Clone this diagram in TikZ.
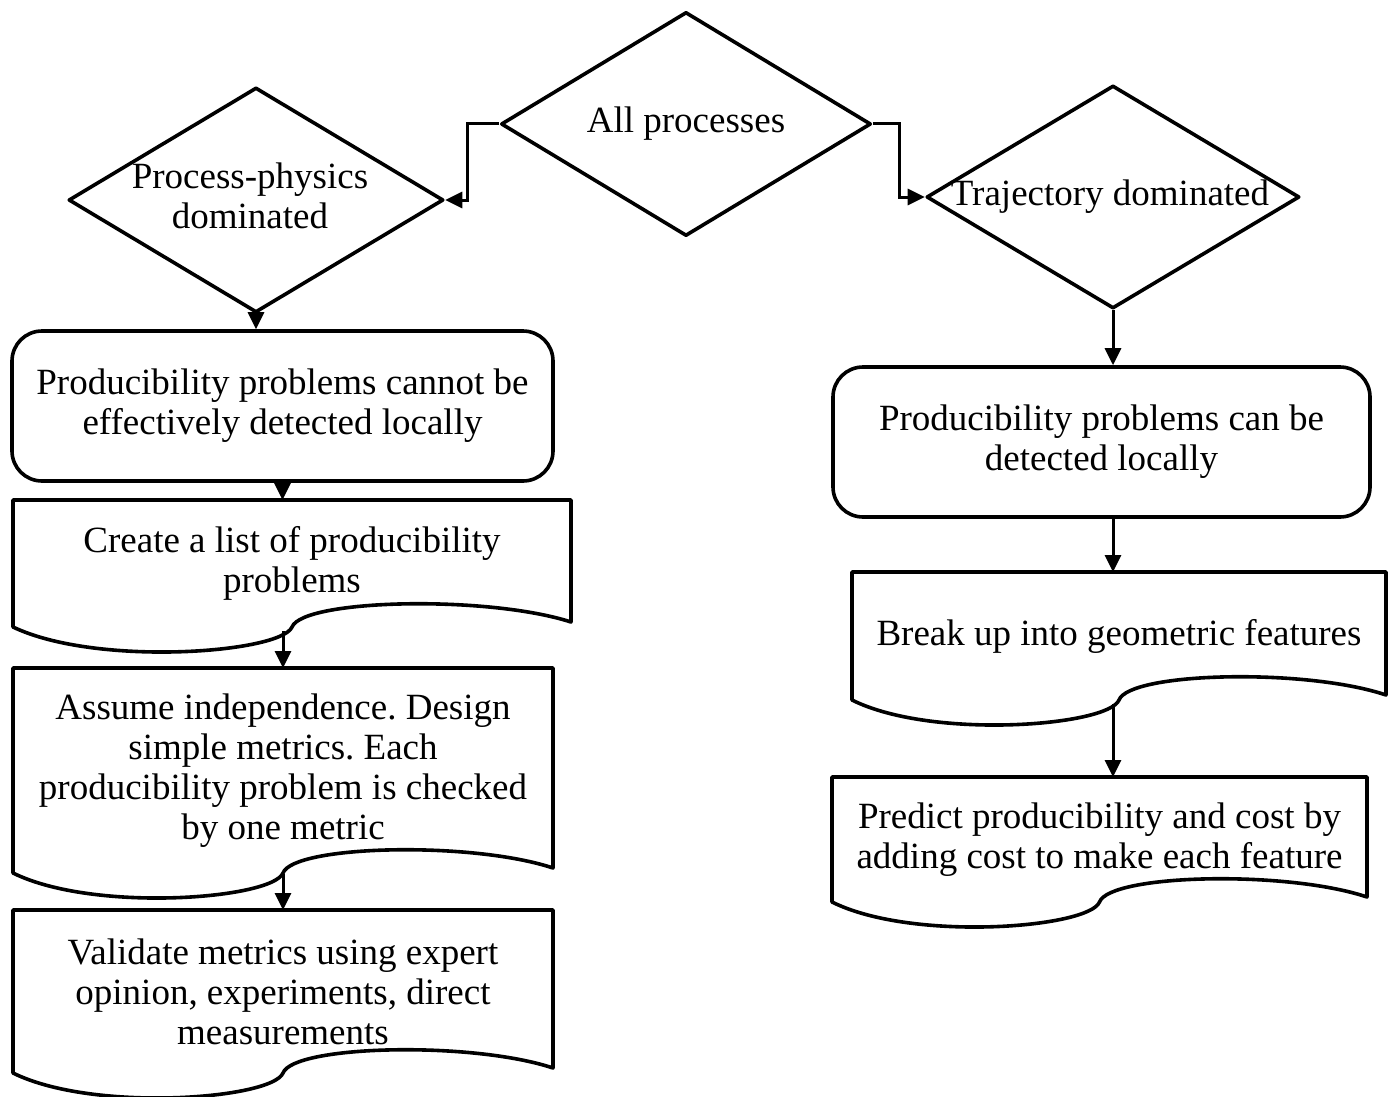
\documentclass[tikz,border=0pt]{standalone}
\usepackage{fontspec}
\setmainfont{Liberation Serif}
\frenchspacing
\usetikzlibrary{shapes.geometric,arrows.meta,calc}

\tikzset{
  outline/.style={draw=black, line width=3.6pt, line join=round},
  decision/.style={outline, diamond, inner sep=0pt},
  roundbox/.style={outline, rectangle, rounded corners=30pt, align=center, inner sep=0pt},
  docbox/.style={rectangle, align=center, inner sep=0pt, outer sep=0pt},
  txt/.style={align=center, inner sep=0pt},
  flow/.style={draw=black, line width=3pt, -{Triangle[length=17pt,width=16pt]}},
  elbowflow/.style={flow, line join=miter}
}

% Document symbol: straight top and sides, wavy bottom edge
\newcommand\docoutline[1]{%
  \draw[outline] (#1.north west) -- (#1.north east) -- ($(#1.south east)+(0,5)$)
    .. controls ($(#1.south west)!0.85!(#1.south east)+(0,32)$)
            and ($(#1.south west)!0.52!(#1.south east)+(0,28)$) .. (#1.south)
    .. controls ($(#1.south west)!0.48!(#1.south east)+(0,-26)$)
            and ($(#1.south west)!0.15!(#1.south east)+(0,-40)$) .. (#1.south west)
    -- cycle;}

\begin{document}
\begin{tikzpicture}[x=1pt,y=1pt,font=\fontsize{37}{40}\selectfont]
\useasboundingbox (0,0) rectangle (1394,-1097);

% decisions
\node[decision, minimum width=370pt, minimum height=224pt] (all)  at (686,-124) {};
\node[decision, minimum width=375pt, minimum height=225pt] (phys) at (256,-200) {};
\node[decision, minimum width=373pt, minimum height=223pt] (traj) at (1113,-197) {};
\node[txt] (allt)  at (686,-124) {All processes};
\node[txt] (physt) at (250,-196) {Process-physics\\dominated};
\node[txt] (trajt) at (1110,-197) {Trajectory dominated};

% left branch
\node[roundbox, minimum width=541pt, minimum height=150pt] (cannot) at (282.5,-406)
  {Producibility problems cannot be\\effectively detected locally};
\node[docbox, minimum width=558pt, minimum height=127pt] (list) at (292,-563.5)
  {Create a list of producibility\\problems};
\node[docbox, minimum width=540pt, minimum height=205pt] (indep) at (283,-770.5)
  {Assume independence. Design\\simple metrics. Each\\producibility problem is checked\\by one metric};
\node[docbox, minimum width=540pt, minimum height=163pt] (valid) at (283,-991.5)
  {Validate metrics using expert\\opinion, experiments, direct\\measurements};

% right branch
\node[roundbox, minimum width=537pt, minimum height=150pt] (can) at (1101.5,-442)
  {Producibility problems can be\\detected locally};
\node[docbox, minimum width=534pt, minimum height=128pt] (brk) at (1119,-636)
  {Break up into geometric features};
\node[docbox, minimum width=535pt, minimum height=125pt] (pred) at (1099.5,-839.5)
  {Predict producibility and cost by\\adding cost to make each feature};

\docoutline{list}
\docoutline{indep}
\docoutline{valid}
\docoutline{brk}
\docoutline{pred}

% connectors
\draw[elbowflow] (all.west) -- ++(-32,0) |- (phys.east);
\draw[elbowflow] (all.east) -- ++(27,0) |- (traj.west);

\draw[flow] (phys.south) -- (phys.south |- cannot.north);
\draw[flow] (cannot.south) -- (cannot.south |- list.north);
\draw[flow] ($(list.south -| indep.north)+(0,-4)$) -- (indep.north);
\draw[flow] ($(indep.south -| valid.north)+(0,-1)$) -- (valid.north);

\draw[flow] (traj.south) -- (traj.south |- can.north);
\draw[flow] (can.south -| traj.south) -- (brk.north -| traj.south);
\draw[flow] ($(brk.south -| traj.south)+(0,-4)$) -- (pred.north -| traj.south);
\end{tikzpicture}
\end{document}
